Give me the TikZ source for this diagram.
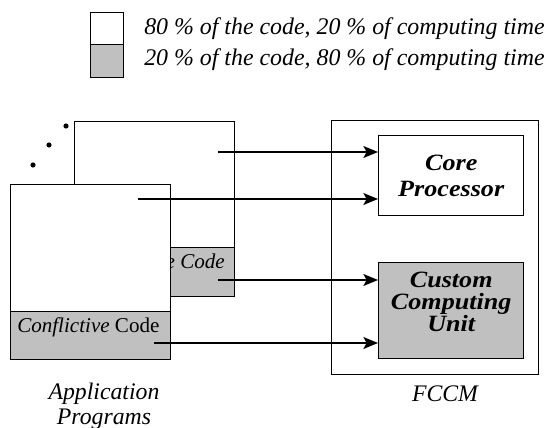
\documentclass[tikz,border=0pt]{standalone}
\usepackage{fontspec}
\setmainfont{Liberation Serif}
\newfontfamily\unitfont[FakeStretch=1.12]{Liberation Serif}
\usetikzlibrary{arrows.meta,positioning}
\definecolor{hotgray}{HTML}{C0C0C0}
\tikzset{
  box/.style={draw,line width=1.1pt,inner sep=0pt,anchor=north west},
  hotbox/.style={box,fill=hotgray},
  link/.style={line width=1.1pt,-{Stealth[length=11pt,width=9pt,inset=2.5pt]}},
  unitlabel/.style={font=\unitfont\fontsize{17.5}{19.5}\selectfont\bfseries\itshape,align=center},
}
\begin{document}
\begin{tikzpicture}[x=0.75pt,y=0.75pt,yscale=-1,xscale=1]
\useasboundingbox (0,0) rectangle (551,428);

%Legend
\node[box,minimum width=24.75pt,minimum height=24pt] (keycold) at (90,12) {};
\node[hotbox,minimum width=24.75pt,minimum height=24.75pt] (keyhot) at (90,44) {};
\node[anchor=base west,inner sep=0pt,font=\fontsize{17.9}{21}\selectfont\itshape] (keycoldtxt) at (144,35) {80 \% of the code, 20 \% of computing time};
\node[anchor=base west,inner sep=0pt,font=\fontsize{17.9}{21}\selectfont\itshape] (keyhottxt) at (144,66) {20 \% of the code, 80 \% of computing time};

%Dots for further programs
\fill (33,165) circle (2.6) (49,145) circle (2.6) (66,126) circle (2.6);

%Back program
\node[box,fill=white,minimum width=120pt,minimum height=131.25pt] (progb) at (74,121) {};
\node[hotbox,minimum width=120pt,minimum height=36.75pt] (hotb) at (74,247) {};
\node[anchor=base east,inner sep=0pt,font=\fontsize{15.8}{18}\selectfont\itshape] (hotbtxt) at (225,268) {Conflictive Code};
\coordinate (s1) at (218,152);
\coordinate (s3) at (218,280);

%FCCM
\node[box,minimum width=155.25pt,minimum height=190.5pt] (fccm) at (331,120) {};
\node[box,minimum width=108.75pt,minimum height=60pt,unitlabel] (core) at (378,135) {Core\\Processor};
\node[hotbox,minimum width=108.75pt,minimum height=72pt] (ccu) at (378,262) {};
\node[unitlabel,font=\unitfont\fontsize{17.5}{16.5}\selectfont\bfseries\itshape,yshift=6.5pt] (ccutxt) at (ccu.center) {Custom\\Computing\\Unit};
\node[anchor=base,font=\fontsize{17.8}{18}\selectfont\itshape] (fccmtxt) at (445,402) {FCCM};

\draw[link] (s1) -- (s1 -| core.west);
\draw[link] (s3) -- (s3 -| ccu.west);

%Front program
\node[box,fill=white,minimum width=120pt,minimum height=131.25pt] (proga) at (10,184) {};
\node[hotbox,minimum width=120pt,minimum height=36pt] (hota) at (10,311) {};
\node[anchor=base west,inner sep=0pt,font=\fontsize{15.8}{18}\selectfont] (hotatxt) at (17,333) {\textit{Conflictive} Code};
\coordinate (s2) at (138,199);
\coordinate (s4) at (154,343);
\node[anchor=base,align=center,font=\fontsize{17.8}{18}\selectfont\itshape] (apptxt) at (104,424) {Application\\Programs};

\draw[link] (s2) -- (s2 -| core.west);
\draw[link] (s4) -- (s4 -| ccu.west);

\end{tikzpicture}
\end{document}
